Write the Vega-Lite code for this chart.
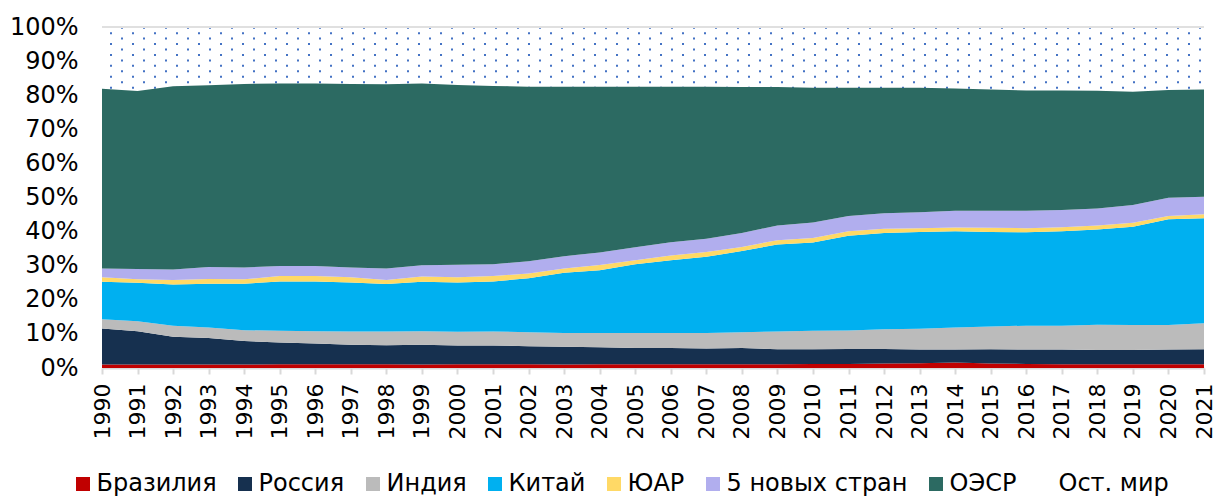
{
  "$schema": "https://vega.github.io/schema/vega-lite/v6.json",
  "width": 1102,
  "height": 341,
  "autosize": {"type": "none"},
  "padding": {"left": 102, "top": 27, "right": 14, "bottom": 128},
  "config": {
    "font": "DejaVu Sans",
    "view": {"stroke": null},
    "axis": {"labelColor": "#000000", "title": null},
    "axisY": {"labelOverlap": false, "labelFontSize": 24, "labelPadding": 24, "domain": false, "ticks": false, "grid": false}
  },
  "datasets": {
    "shares": [
      {"year": 1990, "bra": 1.0, "rus": 10.6, "ind": 2.7, "chn": 11.0, "zaf": 1.3, "new5": 2.6, "oecd": 52.7, "rest": 18.1},
      {"year": 1991, "bra": 1.0, "rus": 9.8, "ind": 2.9, "chn": 11.3, "zaf": 1.0, "new5": 3.0, "oecd": 52.2, "rest": 18.8},
      {"year": 1992, "bra": 1.0, "rus": 8.2, "ind": 3.2, "chn": 12.1, "zaf": 1.3, "new5": 3.1, "oecd": 53.7, "rest": 17.4},
      {"year": 1993, "bra": 1.0, "rus": 7.8, "ind": 3.1, "chn": 12.8, "zaf": 1.4, "new5": 3.5, "oecd": 53.3, "rest": 17.1},
      {"year": 1994, "bra": 1.0, "rus": 6.9, "ind": 3.2, "chn": 13.6, "zaf": 1.3, "new5": 3.5, "oecd": 53.8, "rest": 16.7},
      {"year": 1995, "bra": 1.1, "rus": 6.4, "ind": 3.4, "chn": 14.5, "zaf": 1.6, "new5": 2.9, "oecd": 53.5, "rest": 16.6},
      {"year": 1996, "bra": 1.1, "rus": 6.1, "ind": 3.6, "chn": 14.6, "zaf": 1.6, "new5": 2.9, "oecd": 53.5, "rest": 16.6},
      {"year": 1997, "bra": 1.1, "rus": 5.7, "ind": 3.9, "chn": 14.4, "zaf": 1.5, "new5": 2.9, "oecd": 53.8, "rest": 16.7},
      {"year": 1998, "bra": 1.1, "rus": 5.6, "ind": 4.0, "chn": 13.9, "zaf": 1.2, "new5": 3.4, "oecd": 54.0, "rest": 16.8},
      {"year": 1999, "bra": 1.0, "rus": 5.8, "ind": 4.0, "chn": 14.5, "zaf": 1.5, "new5": 3.3, "oecd": 53.3, "rest": 16.6},
      {"year": 2000, "bra": 1.1, "rus": 5.5, "ind": 4.0, "chn": 14.5, "zaf": 1.5, "new5": 3.7, "oecd": 52.7, "rest": 17.0},
      {"year": 2001, "bra": 1.1, "rus": 5.5, "ind": 4.1, "chn": 14.7, "zaf": 1.6, "new5": 3.4, "oecd": 52.3, "rest": 17.3},
      {"year": 2002, "bra": 1.1, "rus": 5.3, "ind": 4.1, "chn": 15.8, "zaf": 1.4, "new5": 3.6, "oecd": 51.2, "rest": 17.5},
      {"year": 2003, "bra": 1.0, "rus": 5.2, "ind": 4.1, "chn": 17.6, "zaf": 1.3, "new5": 3.6, "oecd": 49.7, "rest": 17.5},
      {"year": 2004, "bra": 1.1, "rus": 5.0, "ind": 4.2, "chn": 18.4, "zaf": 1.5, "new5": 3.7, "oecd": 48.6, "rest": 17.5},
      {"year": 2005, "bra": 1.1, "rus": 4.8, "ind": 4.4, "chn": 20.1, "zaf": 1.2, "new5": 3.8, "oecd": 47.1, "rest": 17.5},
      {"year": 2006, "bra": 1.1, "rus": 4.8, "ind": 4.4, "chn": 21.3, "zaf": 1.4, "new5": 3.9, "oecd": 45.6, "rest": 17.5},
      {"year": 2007, "bra": 1.1, "rus": 4.6, "ind": 4.6, "chn": 22.3, "zaf": 1.4, "new5": 3.9, "oecd": 44.6, "rest": 17.5},
      {"year": 2008, "bra": 1.1, "rus": 4.8, "ind": 4.6, "chn": 23.8, "zaf": 1.2, "new5": 4.1, "oecd": 42.8, "rest": 17.6},
      {"year": 2009, "bra": 1.1, "rus": 4.4, "ind": 5.2, "chn": 25.5, "zaf": 1.3, "new5": 4.3, "oecd": 40.6, "rest": 17.6},
      {"year": 2010, "bra": 1.2, "rus": 4.3, "ind": 5.4, "chn": 25.9, "zaf": 1.3, "new5": 4.6, "oecd": 39.5, "rest": 17.8},
      {"year": 2011, "bra": 1.2, "rus": 4.4, "ind": 5.4, "chn": 27.8, "zaf": 1.3, "new5": 4.5, "oecd": 37.6, "rest": 17.8},
      {"year": 2012, "bra": 1.3, "rus": 4.3, "ind": 5.8, "chn": 28.2, "zaf": 1.2, "new5": 4.6, "oecd": 36.8, "rest": 17.8},
      {"year": 2013, "bra": 1.4, "rus": 4.0, "ind": 6.1, "chn": 28.4, "zaf": 1.1, "new5": 4.7, "oecd": 36.5, "rest": 17.8},
      {"year": 2014, "bra": 1.6, "rus": 3.8, "ind": 6.5, "chn": 28.2, "zaf": 1.1, "new5": 4.9, "oecd": 35.9, "rest": 18.0},
      {"year": 2015, "bra": 1.3, "rus": 4.2, "ind": 6.7, "chn": 27.7, "zaf": 1.2, "new5": 5.0, "oecd": 35.6, "rest": 18.3},
      {"year": 2016, "bra": 1.2, "rus": 4.2, "ind": 7.0, "chn": 27.4, "zaf": 1.2, "new5": 5.1, "oecd": 35.3, "rest": 18.6},
      {"year": 2017, "bra": 1.1, "rus": 4.3, "ind": 7.0, "chn": 27.7, "zaf": 1.2, "new5": 5.0, "oecd": 35.1, "rest": 18.6},
      {"year": 2018, "bra": 1.1, "rus": 4.2, "ind": 7.4, "chn": 27.9, "zaf": 1.2, "new5": 5.0, "oecd": 34.5, "rest": 18.7},
      {"year": 2019, "bra": 1.1, "rus": 4.2, "ind": 7.3, "chn": 28.8, "zaf": 1.2, "new5": 5.2, "oecd": 33.2, "rest": 19.0},
      {"year": 2020, "bra": 1.1, "rus": 4.3, "ind": 7.2, "chn": 31.0, "zaf": 1.0, "new5": 5.3, "oecd": 31.6, "rest": 18.5},
      {"year": 2021, "bra": 1.1, "rus": 4.4, "ind": 7.6, "chn": 30.8, "zaf": 1.2, "new5": 5.1, "oecd": 31.5, "rest": 18.3}
    ],
    "series": [
      {"key": "bra", "label": "Бразилия", "idx": 1},
      {"key": "rus", "label": "Россия", "idx": 2},
      {"key": "ind", "label": "Индия", "idx": 3},
      {"key": "chn", "label": "Китай", "idx": 4},
      {"key": "zaf", "label": "ЮАР", "idx": 5},
      {"key": "new5", "label": "5 новых стран", "idx": 6},
      {"key": "oecd", "label": "ОЭСР", "idx": 7},
      {"key": "rest", "label": "Ост. мир", "idx": 8}
    ],
    "dots": [
      {"level": 99.8, "g": "a"}, {"level": 96.6, "g": "a"}, {"level": 93.4, "g": "a"}, {"level": 90.2, "g": "a"}, {"level": 87.0, "g": "a"}, {"level": 83.8, "g": "a"}, {"level": 80.6, "g": "a"},
      {"level": 98.2, "g": "b"}, {"level": 95.0, "g": "b"}, {"level": 91.8, "g": "b"}, {"level": 88.6, "g": "b"}, {"level": 85.4, "g": "b"}, {"level": 82.2, "g": "b"}
    ],
    "frame": [{"edge": 100}]
  },
  "layer": [
    {
      "data": {"name": "dots"},
      "transform": [{"filter": "datum.g === 'a'"}],
      "mark": {"type": "rule", "color": "#4472C4", "strokeWidth": 2, "strokeDash": [2, 20], "strokeDashOffset": 19},
      "encoding": {
        "y": {
          "field": "level", "type": "quantitative",
          "scale": {"domain": [0, 100], "nice": false},
          "axis": {"values": [0, 10, 20, 30, 40, 50, 60, 70, 80, 90, 100], "labelExpr": "datum.value + '%'", "labelOverlap": false}
        }
      }
    },
    {
      "data": {"name": "dots"},
      "transform": [{"filter": "datum.g === 'b'"}],
      "mark": {"type": "rule", "color": "#4472C4", "strokeWidth": 2, "strokeDash": [2, 20], "strokeDashOffset": 8},
      "encoding": {
        "y": {
          "field": "level", "type": "quantitative",
          "axis": {"values": [0, 10, 20, 30, 40, 50, 60, 70, 80, 90, 100], "labelExpr": "datum.value + '%'", "labelOverlap": false}
        }
      }
    },
    {
      "data": {"name": "shares"},
      "transform": [
        {"fold": ["bra", "rus", "ind", "chn", "zaf", "new5", "oecd", "rest"], "as": ["key", "share"]},
        {"lookup": "key", "from": {"data": {"name": "series"}, "key": "key", "fields": ["label", "idx"]}}
      ],
      "mark": {"type": "area", "interpolate": "linear"},
      "encoding": {
        "x": {
          "field": "year", "type": "quantitative",
          "scale": {"domain": [1990, 2021], "nice": false, "zero": false},
          "axis": {
            "values": [1990,1991,1992,1993,1994,1995,1996,1997,1998,1999,2000,2001,2002,2003,2004,2005,2006,2007,2008,2009,2010,2011,2012,2013,2014,2015,2016,2017,2018,2019,2020,2021],
            "format": "d", "labelAngle": -90, "labelFontSize": 22, "labelPadding": 9,
            "domainColor": "#d9d9d9", "domainWidth": 2, "tickColor": "#d9d9d9", "tickWidth": 2, "tickSize": 6,
            "grid": false, "labelFlush": false, "labelOverlap": false
          }
        },
        "y": {
          "field": "share", "type": "quantitative", "stack": "zero",
          "axis": {"values": [0, 10, 20, 30, 40, 50, 60, 70, 80, 90, 100], "labelExpr": "datum.value + '%'", "labelOverlap": false}
        },
        "order": {"field": "idx", "type": "quantitative", "sort": "ascending"},
        "color": {
          "field": "label", "type": "nominal",
          "scale": {
            "domain": ["Бразилия", "Россия", "Индия", "Китай", "ЮАР", "5 новых стран", "ОЭСР", "Ост. мир"],
            "range": ["#C00000", "#16304F", "#BBBBBB", "#00B0F0", "#FFD966", "#B1AEEE", "#2C6A62", "rgba(255,255,255,0)"]
          },
          "legend": {
            "title": null, "orient": "none", "direction": "horizontal", "legendX": -31, "legendY": 445,
            "symbolType": "square", "symbolSize": 196, "symbolStrokeWidth": 0, "labelFontSize": 24,
            "labelColor": "#000000", "labelOffset": 1.5, "columnPadding": 16, "padding": 0, "labelLimit": 300
          }
        }
      }
    },
    {
      "data": {"name": "frame"},
      "mark": {"type": "rule", "color": "#e0e0e0", "strokeWidth": 2},
      "encoding": {
        "y": {
          "field": "edge", "type": "quantitative",
          "axis": {"values": [0, 10, 20, 30, 40, 50, 60, 70, 80, 90, 100], "labelExpr": "datum.value + '%'", "labelOverlap": false}
        }
      }
    }
  ]
}
